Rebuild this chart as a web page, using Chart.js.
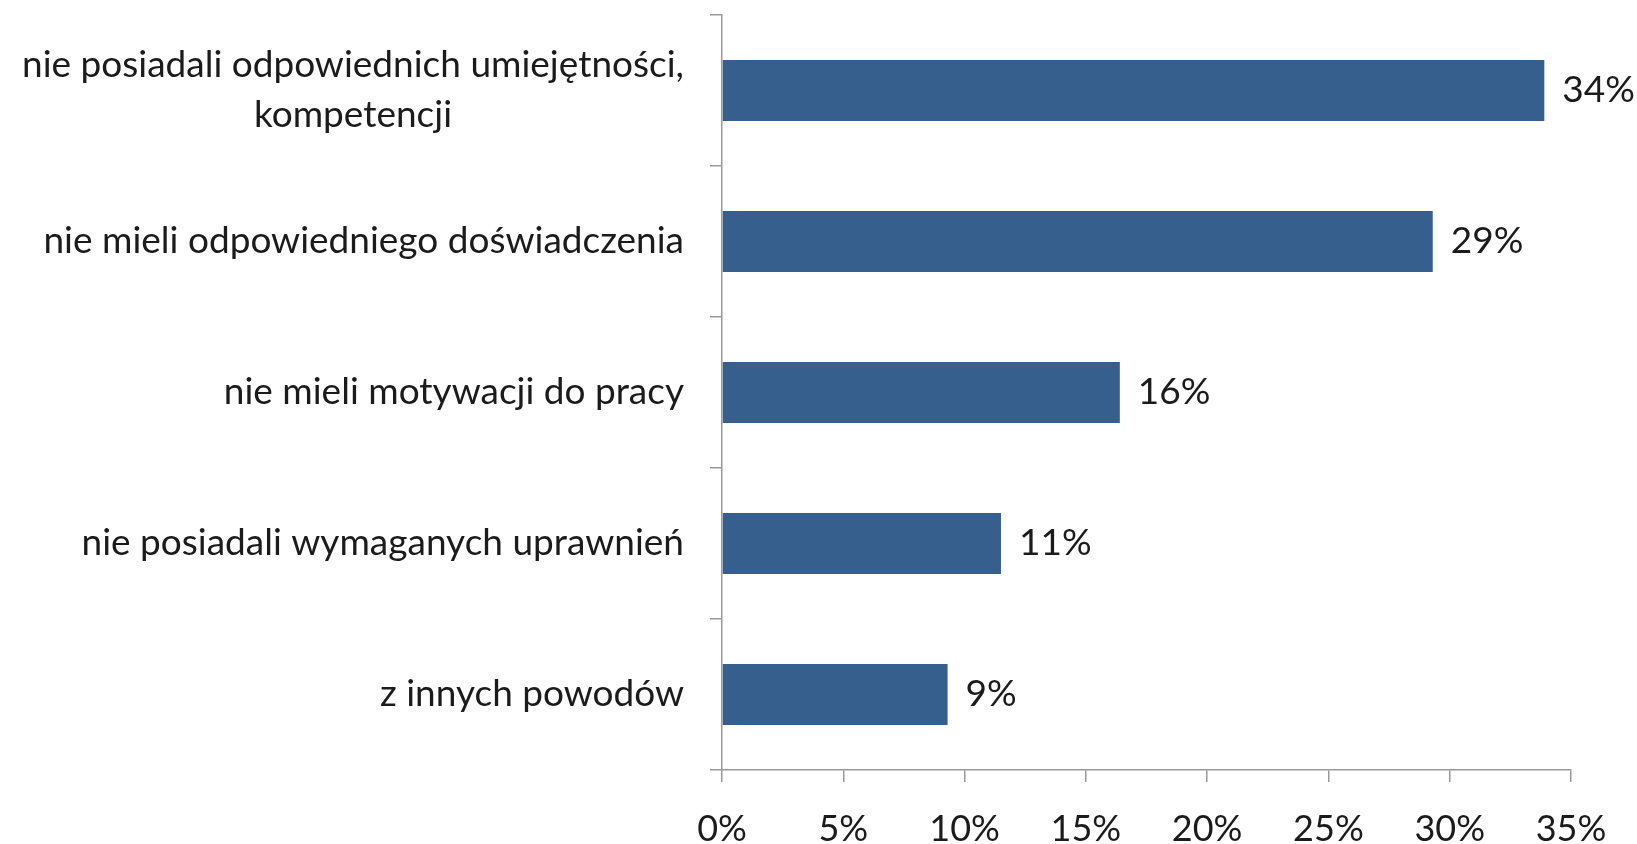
<!DOCTYPE html>
<html lang="pl">
<head>
    <meta charset="UTF-8">
    <title>Powody</title>
    <script src="https://cdn.jsdelivr.net/npm/chart.js"></script>
    <style>
        html, body {
            margin: 0;
            padding: 0;
            background: #ffffff;
        }
        .chart-box {
            width: 1637px;
            height: 844px;
        }
    </style>
</head>
<body>
    <div class="chart-box">
        <canvas id="barChart" width="1637" height="844"></canvas>
    </div>
    <script>
        // data
        const categories = [
            ['nie posiadali odpowiednich umiejętności,', 'kompetencji'],
            'nie mieli odpowiedniego doświadczenia',
            'nie mieli motywacji do pracy',
            'nie posiadali wymaganych uprawnień',
            'z innych powodów'
        ];
        const values = [33.9, 29.3, 16.4, 11.5, 9.3];
        const valueLabels = ['34%', '29%', '16%', '11%', '9%'];
        const xTicks = [0, 5, 10, 15, 20, 25, 30, 35];

        const FONT = 'Lato, "Open Sans", sans-serif';
        const TEXT = '#1b1b1b';
        const AXIS = '#9a9a9a';

        // value labels at the end of bars
        const valueLabelPlugin = {
            id: 'valueLabels',
            afterDatasetsDraw(chart) {
                const ctx = chart.ctx;
                const meta = chart.getDatasetMeta(0);
                ctx.save();
                ctx.font = '37px ' + FONT;
                ctx.fillStyle = TEXT;
                ctx.textAlign = 'left';
                ctx.textBaseline = 'middle';
                meta.data.forEach((bar, i) => {
                    ctx.fillText(valueLabels[i], bar.x + 18, bar.y);
                });
                ctx.restore();
            }
        };

        // category labels: right aligned block, lines centred inside it
        const categoryLabelPlugin = {
            id: 'categoryLabels',
            afterDraw(chart) {
                const ctx = chart.ctx;
                const yScale = chart.scales.y;
                const right = chart.chartArea.left - 38;
                ctx.save();
                ctx.font = '37px ' + FONT;
                ctx.fillStyle = TEXT;
                ctx.textBaseline = 'middle';
                categories.forEach((cat, i) => {
                    const y = yScale.getPixelForValue(i);
                    const lines = Array.isArray(cat) ? cat : [cat];
                    const maxW = Math.max(...lines.map(l => ctx.measureText(l).width));
                    const lineH = 50;
                    const startY = y - (lines.length - 1) * lineH / 2;
                    ctx.textAlign = 'center';
                    lines.forEach((line, j) => {
                        ctx.fillText(line, right - maxW / 2, startY + j * lineH);
                    });
                });
                ctx.restore();
            }
        };

        const ctx = document.getElementById('barChart').getContext('2d');
        new Chart(ctx, {
            type: 'bar',
            data: {
                labels: categories.map(c => Array.isArray(c) ? c.join(' ') : c),
                datasets: [{
                    data: values,
                    backgroundColor: '#365F8E',
                    borderWidth: 0,
                    categoryPercentage: 0.405,
                    barPercentage: 1
                }]
            },
            options: {
                indexAxis: 'y',
                responsive: false,
                animation: false,
                layout: {
                    padding: { top: 15, right: 66, bottom: 0, left: 0 }
                },
                plugins: {
                    legend: { display: false },
                    tooltip: { enabled: false }
                },
                scales: {
                    x: {
                        min: 0,
                        max: 35,
                        afterBuildTicks(scale) {
                            scale.ticks = xTicks.map(v => ({ value: v }));
                        },
                        afterFit(scale) {
                            scale.height = 74;
                        },
                        ticks: {
                            callback: v => v + '%',
                            color: TEXT,
                            font: { family: FONT, size: 36 },
                            padding: 26,
                            maxRotation: 0,
                            autoSkip: false
                        },
                        grid: {
                            drawOnChartArea: false,
                            drawTicks: true,
                            tickLength: 12,
                            color: AXIS,
                            lineWidth: 1.5
                        },
                        border: { display: true, color: AXIS, width: 1.5 }
                    },
                    y: {
                        afterFit(scale) {
                            scale.width = 722;
                        },
                        ticks: { display: false },
                        grid: {
                            offset: true,
                            drawOnChartArea: false,
                            drawTicks: true,
                            tickLength: 12,
                            color: AXIS,
                            lineWidth: 1.5
                        },
                        border: { display: true, color: AXIS, width: 1.5 }
                    }
                }
            },
            plugins: [valueLabelPlugin, categoryLabelPlugin]
        });
    </script>
</body>
</html>
